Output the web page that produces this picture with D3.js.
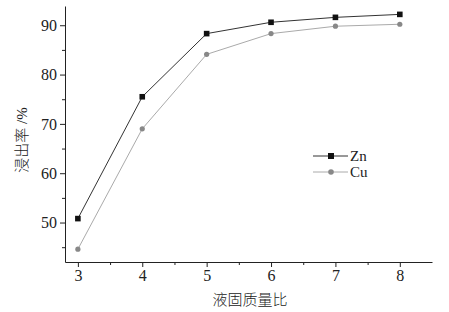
<!DOCTYPE html>
<html>
<head>
<meta charset="utf-8">
<script src="https://cdn.jsdelivr.net/npm/d3@7"></script>
<style>
  body { margin: 0; background: #fff; }
  text { font-family: "Liberation Serif", "Noto Sans CJK SC", serif; fill: #222; }
</style>
</head>
<body>
<div id="chart"></div>
<script>
var ratio = [3, 4, 5, 6, 7, 8];
var zn = [50.8, 75.5, 88.3, 90.6, 91.6, 92.2];
var cu = [44.6, 69.0, 84.1, 88.3, 89.8, 90.2];
var yTicks = [50, 60, 70, 80, 90];

var width = 449, height = 312;
var svg = d3.select("#chart").append("svg")
            .attr("width", width)
            .attr("height", height);

var x = d3.scaleLinear().domain([2.8, 8.5]).range([65, 432]);
var y = d3.scaleLinear().domain([42, 93.9]).range([262, 6]);

// minor ticks
svg.append("g")
   .attr("transform", "translate(0,262)")
   .call(d3.axisBottom(x).tickValues(d3.range(3.5, 8.5, 1)).tickSize(3).tickFormat(""))
   .call(g => g.select(".domain").remove());
svg.append("g")
   .attr("transform", "translate(65,0)")
   .call(d3.axisLeft(y).tickValues([45, 55, 65, 75, 85]).tickSize(3).tickFormat(""))
   .call(g => g.select(".domain").remove());

var xAxis = svg.append("g")
   .attr("transform", "translate(0,262)")
   .call(d3.axisBottom(x).tickValues(ratio).tickFormat(d3.format("d")).tickSize(5).tickSizeOuter(0).tickPadding(3));
var yAxis = svg.append("g")
   .attr("transform", "translate(65,0)")
   .call(d3.axisLeft(y).tickValues(yTicks).tickFormat(d3.format("d")).tickSize(5).tickSizeOuter(0).tickPadding(3));

svg.selectAll(".tick text").attr("font-size", 16).attr("font-family", "Liberation Serif");
svg.selectAll(".domain, .tick line").attr("stroke", "#222");

var line = d3.line().x((d, i) => x(ratio[i])).y(d => y(d));

svg.append("path").datum(cu)
   .attr("d", line).attr("fill", "none")
   .attr("stroke", "#aaa").attr("stroke-width", 1);
svg.append("path").datum(zn)
   .attr("d", line).attr("fill", "none")
   .attr("stroke", "#333").attr("stroke-width", 1);

svg.selectAll(".cu").data(cu).join("circle")
   .attr("cx", (d, i) => x(ratio[i]))
   .attr("cy", d => y(d))
   .attr("r", 2.6)
   .attr("fill", "#888");
svg.selectAll(".zn").data(zn).join("rect")
   .attr("x", (d, i) => x(ratio[i]) - 2.8)
   .attr("y", d => y(d) - 2.8)
   .attr("width", 5.6).attr("height", 5.6)
   .attr("fill", "#111");

// legend
var leg = svg.append("g");
leg.append("line").attr("x1", 313).attr("x2", 348).attr("y1", 156).attr("y2", 156).attr("stroke", "#333");
leg.append("rect").attr("x", 328).attr("y", 153).attr("width", 6).attr("height", 6).attr("fill", "#111");
leg.append("text").attr("x", 350).attr("y", 161).attr("font-size", 15).text("Zn");
leg.append("line").attr("x1", 313).attr("x2", 348).attr("y1", 172).attr("y2", 172).attr("stroke", "#aaa");
leg.append("circle").attr("cx", 331).attr("cy", 172).attr("r", 2.8).attr("fill", "#888");
leg.append("text").attr("x", 350).attr("y", 177).attr("font-size", 15).text("Cu");

svg.append("text")
   .attr("x", 250).attr("y", 305)
   .attr("text-anchor", "middle")
   .attr("font-size", 15)
   .attr("font-family", "Noto Sans CJK SC")
   .attr("font-weight", 300)
   .text("液固质量比");

svg.append("text")
   .attr("transform", "translate(27,140) rotate(-90)")
   .attr("text-anchor", "middle")
   .attr("font-size", 15)
   .attr("font-family", "Noto Sans CJK SC")
   .attr("font-weight", 300)
   .text("浸出率 /%");
</script>
</body>
</html>
